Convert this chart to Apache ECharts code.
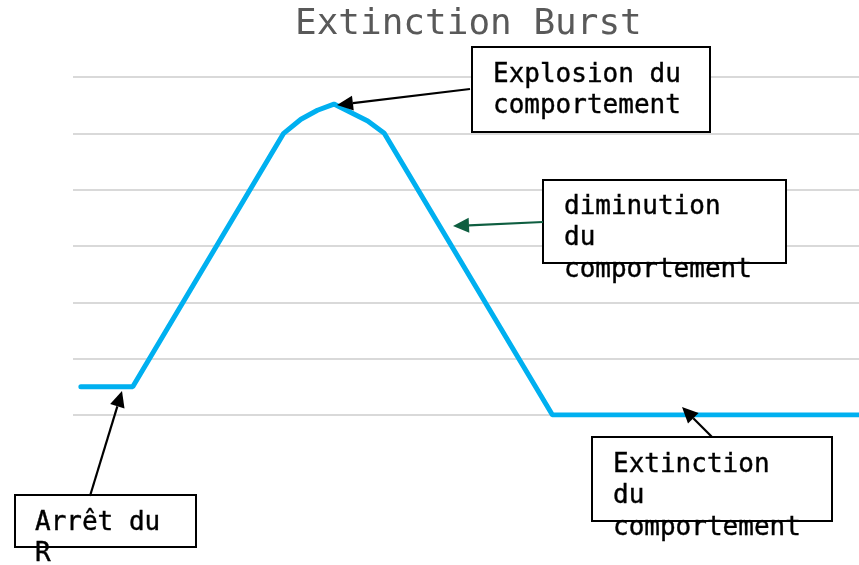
<!DOCTYPE html>
<html>
<head>
<meta charset="utf-8">
<script src="https://cdn.jsdelivr.net/npm/echarts@6/dist/echarts.min.js"></script>
<style>
  html, body { margin: 0; padding: 0; background: #fff; }
  #chart { width: 859px; height: 565px; }
</style>
</head>
<body>
<div id="chart"></div>
<script>
// courbe du burst d'extinction (x arbitraire 0-100, y en niveaux de grille 0-6)
const xValues = [1.0, 7.6, 26.8, 29.0, 31.1, 33.2, 37.5, 39.6, 61.0, 100];
const yValues = [0.5, 0.5, 5.0, 5.25, 5.41, 5.52, 5.22, 5.0, 0, 0];

const titleText = 'Extinction Burst';
const notes = [
  'Explosion du\ncomportement',
  'diminution\ndu\ncomportement',
  'Arrêt du\nR',
  'Extinction\ndu\ncomportement'
];

const MONO = '"DejaVu Sans Mono", "Liberation Mono", monospace';

// petite fleche: trait + tete triangulaire pleine
function arrow(x1, y1, x2, y2, color) {
  const dx = x2 - x1, dy = y2 - y1;
  const len = Math.sqrt(dx * dx + dy * dy);
  const ux = dx / len, uy = dy / len;
  const hl = 16, hw = 7.5;
  const bx = x2 - ux * hl, by = y2 - uy * hl;
  return [
    { type: 'line', z: 20, shape: { x1: x1, y1: y1, x2: bx, y2: by },
      style: { stroke: color, lineWidth: 2.2 } },
    { type: 'polygon', z: 20,
      shape: { points: [[x2, y2], [bx - uy * hw, by + ux * hw], [bx + uy * hw, by - ux * hw]] },
      style: { fill: color } }
  ];
}

function box(x, y, w, h, tx, ty, text) {
  return [
    { type: 'rect', z: 10, shape: { x: x, y: y, width: w, height: h },
      style: { fill: '#fff', stroke: '#000', lineWidth: 2 } },
    { type: 'text', z: 11, x: tx, y: ty,
      style: { text: text, font: '26px ' + MONO, fill: '#000', lineHeight: 31.5,
        verticalAlign: 'top', stroke: '#000', lineWidth: 0.4 } }
  ];
}

const chart = echarts.init(document.getElementById('chart'));

const graphics = []
  .concat(box(472, 47, 238, 85, 493, 59, notes[0]))
  .concat(box(543, 180, 243, 83, 564, 191, notes[1]))
  .concat(box(15, 495, 181, 52, 35, 507, notes[2]))
  .concat(box(592, 437, 240, 84, 613, 449, notes[3]))
  .concat(arrow(470, 89, 337, 105, '#000'))
  .concat(arrow(543, 222, 453, 226, '#0E5E40'))
  .concat(arrow(90, 496, 122, 391, '#000'))
  .concat(arrow(712, 437, 682, 407, '#000'));

graphics.push({
  type: 'text', z: 5, x: 295, y: 7,
  style: { text: titleText, font: '36px ' + MONO, fill: '#595959', verticalAlign: 'top' }
});

chart.setOption({
  animation: false,
  grid: { left: 73, right: 0, top: 77, bottom: 150 },
  xAxis: {
    type: 'value', min: 0, max: 100,
    axisLine: { show: false }, axisTick: { show: false },
    axisLabel: { show: false }, splitLine: { show: false }
  },
  yAxis: {
    type: 'value', min: 0, max: 6, interval: 1,
    axisLine: { show: false }, axisTick: { show: false },
    axisLabel: { show: false },
    splitLine: { lineStyle: { color: '#D9D9D9', width: 2 } }
  },
  series: [{
    type: 'line',
    data: xValues.map((x, i) => [x, yValues[i]]),
    showSymbol: false,
    lineStyle: { color: '#00B0F0', width: 5, cap: 'round' },
    z: 3
  }],
  graphic: graphics
});
</script>
</body>
</html>
